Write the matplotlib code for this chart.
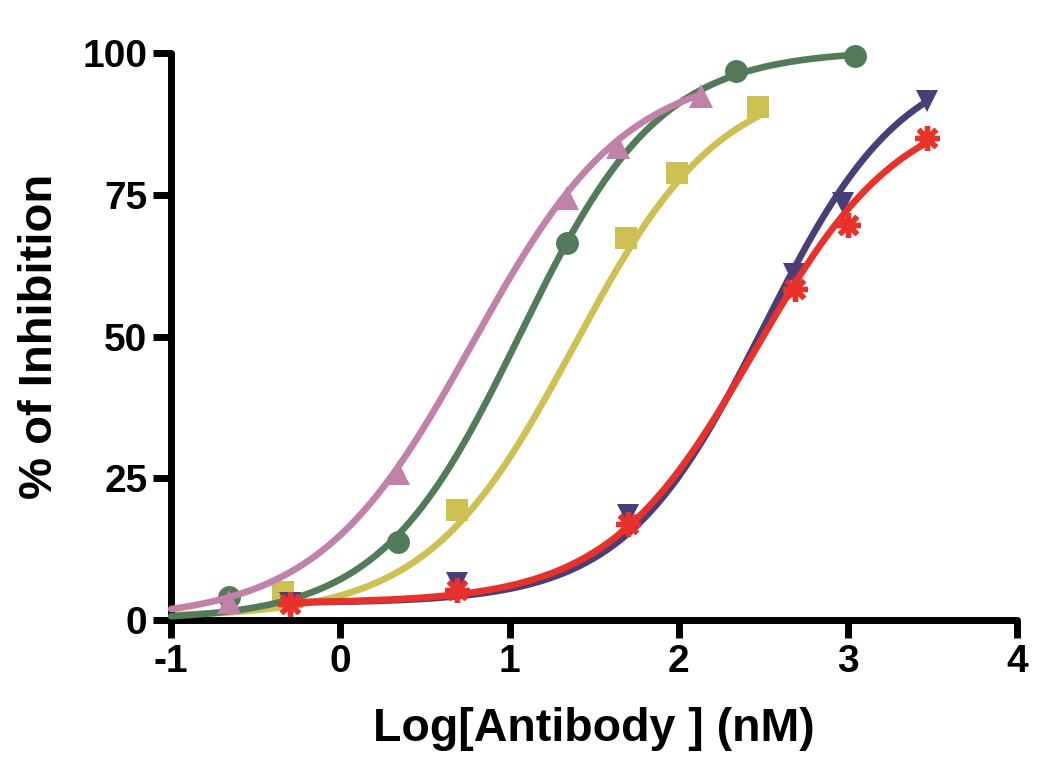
import numpy as np
import matplotlib
matplotlib.use("Agg")
import matplotlib.pyplot as plt

plt.rcParams['font.family'] = ['Liberation Sans', 'DejaVu Sans']
plt.rcParams['font.weight'] = 'bold'

# Data (log10 concentration, % inhibition)
yellow_x = [-0.34, 0.69, 1.69, 1.99, 2.47]
yellow_y = [5.0, 19.4, 67.4, 78.8, 90.5]
green_x = [-0.66, 0.34, 1.34, 2.34, 3.04]
green_y = [4.0, 13.8, 66.5, 96.8, 99.5]
pink_x = [-0.66, 0.34, 1.34, 1.64, 2.13]
pink_y = [3.2, 26.0, 74.5, 83.5, 92.5]
navy_x = [-0.30, 0.69, 1.70, 2.68, 2.97, 3.47]
navy_y = [3.0, 6.5, 18.5, 61.0, 73.5, 91.5]
red_x = [-0.30, 0.69, 1.70, 2.69, 3.00, 3.47]
red_y = [2.8, 5.3, 17.0, 58.4, 69.7, 85.0]

# Fitted four-parameter logistic curves: bottom, top, logEC50, hill, x-range
yellow_fit = (0.5, 96.0, 1.38, 1.0, (-1.0, 2.47))
green_fit = (0.0, 100.5, 1.06, 1.05, (-1.0, 3.04))
pink_fit = (0.0, 97.5, 0.78, 0.95, (-1.0, 2.13))
navy_fit = (3.0, 100.0, 2.50, 1.05, (-0.30, 3.47))
red_fit = (3.0, 92.0, 2.45, 1.0, (-0.30, 3.47))

x_ticks = [-1, 0, 1, 2, 3, 4]
y_ticks = [0, 25, 50, 75, 100]

def curve(fit):
    b, t, ec, h, (x0, x1) = fit
    xs = np.linspace(x0, x1, 300)
    return xs, b + (t - b) / (1 + 10 ** ((ec - xs) * h))

fig = plt.figure(figsize=(10.5, 7.79), dpi=100)
ax = fig.add_axes([0.163, 0.204, 0.8056, 0.728])

series = [
    (yellow_x, yellow_y, yellow_fit, '#CCC152', 's', 16),
    (green_x, green_y, green_fit, '#537A59', 'o', 16.5),
    (pink_x, pink_y, pink_fit, '#C082A9', '^', 17.5),
    (navy_x, navy_y, navy_fit, '#4A3D78', 'v', 16.5),
    (red_x, red_y, red_fit, '#E8312B', (8, 2, 0), 18),
]
for i, (xs, ys, fit, col, mk, ms) in enumerate(series):
    cx, cy = curve(fit)
    ax.plot(cx, cy, color=col, lw=4.8, solid_capstyle='round', zorder=2 + i, clip_on=False)
    if isinstance(mk, tuple):
        ax.plot(xs, ys, linestyle='none', marker=mk, ms=ms, mec=col, mfc=col,
                mew=3.8, zorder=2 + i, clip_on=False)
    else:
        ax.plot(xs, ys, linestyle='none', marker=mk, ms=ms, mec=col, mfc=col,
                mew=0, zorder=2 + i, clip_on=False)

ax.set_xlim(-1, 4)
ax.set_ylim(0, 100)
ax.set_xticks(x_ticks)
ax.set_yticks(y_ticks)
ax.set_xticklabels([str(v) for v in x_ticks])
ax.set_yticklabels([str(v) for v in y_ticks])
for s in ['top', 'right']:
    ax.spines[s].set_visible(False)
for s in ['left', 'bottom']:
    ax.spines[s].set_linewidth(5)
    ax.spines[s].set_capstyle('round')
ax.tick_params(axis='both', direction='out', length=13, width=5, labelsize=28, pad=4)
for lab in ax.get_xticklabels() + ax.get_yticklabels():
    lab.set_fontweight('bold')

ax.set_xlabel('Log[Antibody ] (nM)', fontsize=33.5, fontweight='bold', va='center')
ax.set_ylabel('% of Inhibition', fontsize=34, fontweight='bold', va='center')
ax.xaxis.set_label_coords(0.5, -0.192)
ax.yaxis.set_label_coords(-0.155, 0.5)

fig.savefig('out.png', dpi=100)
